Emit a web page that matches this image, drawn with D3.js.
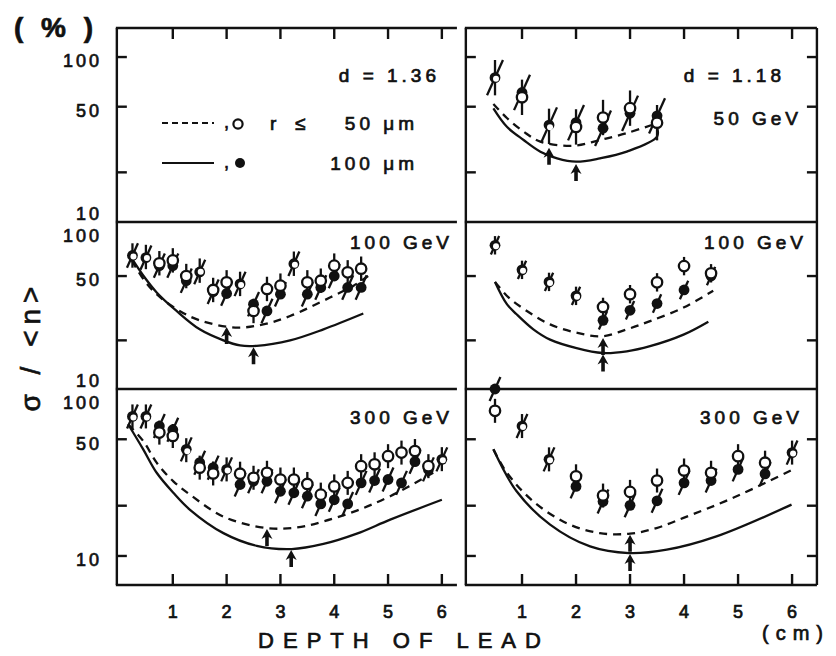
<!DOCTYPE html>
<html><head><meta charset="utf-8">
<script src="https://cdn.jsdelivr.net/npm/d3@7"></script>
<style>
body{margin:0;background:#fff;}
svg text{font-family:"Liberation Sans",Arial,sans-serif;fill:#111;stroke:#111;stroke-width:0.7px;}
</style></head><body>
<svg id="c" width="836" height="656"></svg>
<script>
// ---- measurements: fluctuation sigma/<n> (%) versus depth of lead (cm) ----
// 50 GeV, d = 1.18
const depth50R   = [0.5, 1.0, 1.5, 2.0, 2.5, 3.0, 3.5];
const open50R    = [75, 57, 38, 37.7, 43, 49, 40];
const filled50R  = [75, 61, 38.7, 40, 37, 45.6, 44];
const dashX50R   = [0.47, 0.72, 1.03, 1.34, 1.95, 2.44, 2.94, 3.5];
const dashY50R   = [52, 42.7, 35.3, 30.7, 29, 31.4, 34.6, 39.7];
const solidX50R  = [0.47, 0.72, 1.03, 1.34, 1.65, 2.0, 2.44, 2.94, 3.5, 3.5];
const solidY50R  = [48.9, 37.8, 31.4, 26.7, 24.3, 23.2, 24.3, 26.7, 32.9, 37.5];
const arrowX50R  = [1.5, 2.0];
const arrowY50R  = [28.6, 22.8];

// 100 GeV, d = 1.36
const depth100L  = [0.25, 0.5, 0.75, 1, 1.25, 1.5, 1.75, 2, 2.25, 2.5, 2.75, 3, 3.25, 3.5, 3.75, 4, 4.25, 4.5];
const open100L   = [67, 65.6, 60, 62.5, 50, 54, 41, 45.7, 44.7, 30.4, 41.6, 43.6, 59.6, 45.7, 46.8, 58, 52.7, 55.5];
const filled100L = [67, 65, 58, 58, 46.8, 53, 40, 39, 44.7, 33.5, 30.4, 38.6, 59.6, 38.6, 42.5, 50, 42.5, 42.5];
const dashX100L  = [0.24, 0.45, 0.7, 1.07, 1.5, 2.16, 2.68, 3.18, 3.92, 4.36, 4.63];
const dashY100L  = [62.5, 48, 38.6, 31.2, 26.6, 24.0, 25.1, 28.3, 36.8, 43.6, 50];
const solidX100L = [0.24, 0.45, 0.7, 1.07, 1.5, 1.94, 2.25, 2.56, 3.18, 3.8, 4.54];
const solidY100L = [64, 50.4, 39.6, 30.4, 23.4, 20.0, 18.6, 18.5, 20.0, 23.4, 29.3];
const arrowX100L = [2.0, 2.5];
const arrowY100L = [24.5, 18.4];

// 100 GeV, d = 1.18
const depth100R  = [0.5, 1, 1.5, 2, 2.5, 3, 3.5, 4, 4.5];
const open100R   = [77.5, 54.6, 46, 37.7, 32.2, 38.6, 45.7, 57.6, 52];
const filled100R = [77.5, 54.6, 46, 37.7, 26.6, 30.7, 33.8, 41, 50];
const dashX100R  = [0.5, 0.75, 1.09, 1.52, 2.01, 2.49, 2.94, 3.37, 3.99, 4.54];
const dashY100R  = [46, 36.9, 30.4, 25.1, 22.3, 21.2, 23.4, 26.3, 31.9, 40.6];
const solidX100R = [0.5, 0.72, 0.9, 1.21, 1.52, 2.01, 2.49, 2.94, 3.37, 3.99, 4.45];
const solidY100R = [46, 33.5, 29, 23.4, 20.2, 17.9, 16.7, 17.1, 18.4, 21.7, 26.1];
const arrowX100R = [2.5, 2.5];
const arrowY100R = [21.0, 16.6];

// 300 GeV, d = 1.36
const depth300L  = [0.25, 0.5, 0.75, 1, 1.25, 1.5, 1.75, 2, 2.25, 2.5, 2.75, 3, 3.25, 3.5, 3.75, 4, 4.25, 4.5, 4.75, 5, 5.25, 5.5, 5.75, 6];
const open300L   = [68.5, 68.5, 54.8, 52.3, 43, 33.8, 31.2, 33, 31.1, 29.4, 31.5, 28.7, 28.7, 27, 23.3, 26.1, 27.4, 34.5, 35.4, 39.6, 41.6, 42.5, 34.5, 38];
const filled300L = [68.5, 68.5, 60, 57, 43.5, 36.2, 33.8, 33, 26.8, 28, 28, 24.4, 23.9, 22.8, 20.5, 21.7, 20.5, 27.4, 28.3, 28.7, 27.4, 36.7, 33, 37.9];
const dashX300L  = [0.17, 0.45, 0.7, 1.01, 1.32, 1.94, 2.73, 3.3, 3.8, 4.42, 5.04, 5.84];
const dashY300L  = [61.5, 48.8, 36.2, 28, 23.3, 17.2, 14.7, 14.8, 16.1, 18.7, 22.8, 31.5];
const solidX300L = [0.17, 0.45, 0.7, 1.01, 1.32, 1.94, 2.56, 3.21, 3.8, 4.42, 5.04, 6.0];
const solidY300L = [61.5, 43.5, 31.5, 23.9, 18.9, 13.7, 11.5, 11.0, 11.8, 13.6, 16.5, 21.7];
const arrowX300L = [2.75, 3.2];
const arrowY300L = [14.7, 11.0];

// 300 GeV, d = 1.18
const depth300R  = [0.5, 1, 1.5, 2, 2.5, 3, 3.5, 4, 4.5, 5, 5.5, 6];
const open300R   = [74, 60, 37.9, 30, 23, 24.2, 28.3, 32.5, 31.5, 39.6, 36.2, 41.6];
const filled300R = [100, 60, 37.9, 26.1, 21.2, 20.1, 21.4, 27.4, 28.3, 33, 31, 41.6];
const dashX300R  = [0.47, 0.72, 1.21, 1.83, 2.44, 3.0, 3.49, 3.99, 4.91, 6.02];
const dashY300R  = [43.5, 31.5, 21.2, 15.7, 13.7, 13.6, 14.7, 16.9, 22.3, 33];
const solidX300R = [0.47, 0.9, 1.52, 2.26, 2.98, 3.68, 4.6, 5.99];
const solidY300R = [43.5, 24.4, 15.4, 11.4, 10.4, 10.9, 13.1, 20.3];
const arrowX300R = [3.0, 3.0];
const arrowY300R = [13.6, 10.4];

// relative error (multiplicative half-width) per panel
const errFactor = {r50: 1.28, l100: 1.19, r100: 1.14, l300: 1.18, r300: 1.18};

// axis ticks
const depthTicks = [1, 2, 3, 4, 5, 6];
const valueTicks = [10, 20, 50, 100];
const valueTickLabels = [10, 50, 100];

// ---- layout ----
const svg = d3.select("#c");
const colX = [
  d3.scaleLinear().domain([0, 6.3]).range([119, 458]),
  d3.scaleLinear().domain([0, 6.48]).range([468, 818])
];
const colEdge = [[-0.04, 6.28], [-0.04, 6.46]];
const rowPix = [[28, 222], [222, 389], [389, 585]];
const rowDomain = [[10, 150], [10, 108], [6.7, 100]];
const rowY = rowPix.map((p, i) => d3.scaleLog().domain(rowDomain[i]).range([p[1], p[0]]));

const ink = "#111";

// frames and ticks
for (let c = 0; c < 2; c++) {
  const x = colX[c];
  const xl = x(colEdge[c][0]), xr = x(colEdge[c][1]);
  const g = svg.append("g").attr("stroke", ink).attr("stroke-width", 2.4).attr("fill", "none");
  [28, 222, 389, 585].forEach(yy => g.append("line").attr("x1", xl - 1).attr("x2", xr).attr("y1", yy).attr("y2", yy));
  g.append("line").attr("x1", xl).attr("x2", xl).attr("y1", 28).attr("y2", 585);
  if (c === 1) g.append("line").attr("x1", xr).attr("x2", xr).attr("y1", 28).attr("y2", 585);
  depthTicks.forEach(t => {
    g.append("line").attr("x1", x(t)).attr("x2", x(t)).attr("y1", 28).attr("y2", 39);
    g.append("line").attr("x1", x(t)).attr("x2", x(t)).attr("y1", 585).attr("y2", 574);
  });
  rowY.forEach((y, r) => {
    valueTicks.forEach(v => {
      const yy = y(v);
      if (yy < rowPix[r][0] + 6 || yy > rowPix[r][1] - 6) return;
      g.append("line").attr("x1", xl).attr("x2", xl + 10).attr("y1", yy).attr("y2", yy);
      if (c === 1) g.append("line").attr("x1", xr).attr("x2", xr - 10).attr("y1", yy).attr("y2", yy);
    });
  });
}

// value tick labels (left column)
rowY.forEach((y, r) => {
  valueTickLabels.forEach(v => {
    const yy = Math.max(rowPix[r][0] + 14, Math.min(rowPix[r][1] - 8, y(v) + 4));
    svg.append("text").attr("x", 102).attr("y", yy).attr("dy", "0.35em")
      .attr("text-anchor", "end").attr("font-size", 18).attr("letter-spacing", 3)
      .text(v);
  });
});

// depth tick labels
colX.forEach(x => {
  depthTicks.forEach(t => {
    svg.append("text").attr("x", x(t)).attr("y", 612).attr("dy", "0.35em")
      .attr("text-anchor", "middle").attr("font-size", 18).text(t);
  });
});

// axis titles
svg.append("text").attr("x", 404).attr("y", 648).attr("text-anchor", "middle")
  .attr("font-size", 22).attr("letter-spacing", 9).text("DEPTH OF LEAD");
svg.append("text").attr("x", 762).attr("y", 640)
  .attr("font-size", 20).attr("letter-spacing", 7).text("(cm)");
svg.append("text").attr("x", 14).attr("y", 37).attr("font-size", 28).attr("font-weight", "bold")
  .attr("letter-spacing", 5).text("( % )");
svg.append("text").attr("transform", "translate(40,346) rotate(-90)").attr("text-anchor", "middle")
  .attr("font-size", 28).attr("letter-spacing", 6).text("σ / <n>");

// ---- panel contents ----
function arrowUp(g, cx, cy) {
  g.append("path")
    .attr("d", `M${cx},${cy} L${cx - 5.5},${cy + 10} L${cx - 1.8},${cy + 8} L${cx - 1.8},${cy + 17} L${cx + 1.8},${cy + 17} L${cx + 1.8},${cy + 8} L${cx + 5.5},${cy + 10} Z`)
    .attr("fill", ink);
}

function drawPanel(p) {
  const x = colX[p.col], y = rowY[p.row];
  const g = svg.append("g");
  const line = d3.line().x(d => x(d[0])).y(d => y(d[1])).curve(d3.curveCatmullRom.alpha(0.5));
  g.append("path").datum(d3.zip(p.dashX, p.dashY)).attr("d", line)
    .attr("fill", "none").attr("stroke", ink).attr("stroke-width", 2.3).attr("stroke-dasharray", "8,6");
  g.append("path").datum(d3.zip(p.solidX, p.solidY)).attr("d", line)
    .attr("fill", "none").attr("stroke", ink).attr("stroke-width", 2.3);
  p.arrowX.forEach((d, i) => arrowUp(g, x(d), y(p.arrowY[i]) + 1));

  const e = p.err;
  // error bars: open points vertical, filled points slanted
  p.depth.forEach((d, i) => {
    const cx = x(d);
    g.append("line").attr("x1", cx).attr("x2", cx)
      .attr("y1", y(p.open[i] * e)).attr("y2", y(p.open[i] / e))
      .attr("stroke", ink).attr("stroke-width", 2.3);
    const cy = y(p.filled[i]);
    const h = (y(p.filled[i] / e) - y(p.filled[i] * e)) / 2;
    g.append("line").attr("x1", cx - h * 0.45).attr("x2", cx + h * 0.45)
      .attr("y1", cy + h).attr("y2", cy - h)
      .attr("stroke", ink).attr("stroke-width", 2.3);
  });
  p.depth.forEach((d, i) => {
    g.append("circle").attr("cx", x(d)).attr("cy", y(p.filled[i])).attr("r", 5.4).attr("fill", ink);
  });
  p.depth.forEach((d, i) => {
    if (Math.abs(p.open[i] - p.filled[i]) / p.open[i] < 0.02) return;
    g.append("circle").attr("cx", x(d)).attr("cy", y(p.open[i])).attr("r", 5.2)
      .attr("fill", "#fff").attr("stroke", ink).attr("stroke-width", 2.3);
  });
  p.depth.forEach((d, i) => {
    if (Math.abs(p.open[i] - p.filled[i]) / p.open[i] >= 0.02) return;
    g.append("circle").attr("cx", x(d) + 1).attr("cy", y(p.open[i]) + 1).attr("r", 3)
      .attr("fill", "#fff");
  });
}

drawPanel({col: 1, row: 0, depth: depth50R, open: open50R, filled: filled50R, err: errFactor.r50,
  dashX: dashX50R, dashY: dashY50R, solidX: solidX50R, solidY: solidY50R, arrowX: arrowX50R, arrowY: arrowY50R});
drawPanel({col: 0, row: 1, depth: depth100L, open: open100L, filled: filled100L, err: errFactor.l100,
  dashX: dashX100L, dashY: dashY100L, solidX: solidX100L, solidY: solidY100L, arrowX: arrowX100L, arrowY: arrowY100L});
drawPanel({col: 1, row: 1, depth: depth100R, open: open100R, filled: filled100R, err: errFactor.r100,
  dashX: dashX100R, dashY: dashY100R, solidX: solidX100R, solidY: solidY100R, arrowX: arrowX100R, arrowY: arrowY100R});
drawPanel({col: 0, row: 2, depth: depth300L, open: open300L, filled: filled300L, err: errFactor.l300,
  dashX: dashX300L, dashY: dashY300L, solidX: solidX300L, solidY: solidY300L, arrowX: arrowX300L, arrowY: arrowY300L});
drawPanel({col: 1, row: 2, depth: depth300R, open: open300R, filled: filled300R, err: errFactor.r300,
  dashX: dashX300R, dashY: dashY300R, solidX: solidX300R, solidY: solidY300R, arrowX: arrowX300R, arrowY: arrowY300R});

// ---- panel labels ----
function label(txt, xEnd, yy, size) {
  svg.append("text").attr("x", xEnd).attr("y", yy).attr("dy", "0.35em").attr("text-anchor", "end")
    .attr("font-size", size || 19).attr("letter-spacing", 4).text(txt);
}
label("d = 1.36", 440, 75);
label("d = 1.18", 785, 75);
label("50 GeV", 802, 118);
label("100 GeV", 453, 242);
label("100 GeV", 807, 242);
label("300 GeV", 453, 417);
label("300 GeV", 803, 417);

// legend
const lg = svg.append("g");
lg.append("line").attr("x1", 162).attr("x2", 214).attr("y1", 123).attr("y2", 123)
  .attr("stroke", ink).attr("stroke-width", 2).attr("stroke-dasharray", "6,4");
lg.append("line").attr("x1", 162).attr("x2", 214).attr("y1", 163).attr("y2", 163)
  .attr("stroke", ink).attr("stroke-width", 2);
lg.append("text").attr("x", 224).attr("y", 128).attr("font-size", 18).text(",");
lg.append("text").attr("x", 224).attr("y", 168).attr("font-size", 18).text(",");
lg.append("circle").attr("cx", 238).attr("cy", 124).attr("r", 4.6).attr("fill", "#fff").attr("stroke", ink).attr("stroke-width", 2.2);
lg.append("circle").attr("cx", 240).attr("cy", 163).attr("r", 5).attr("fill", ink);
lg.append("text").attr("x", 270).attr("y", 123).attr("dy", "0.35em").attr("font-size", 19).text("r");
lg.append("text").attr("x", 295).attr("y", 123).attr("dy", "0.35em").attr("font-size", 19).text("≤");
label("50 μm", 418, 123);
label("100 μm", 418, 163);
</script>
</body></html>
